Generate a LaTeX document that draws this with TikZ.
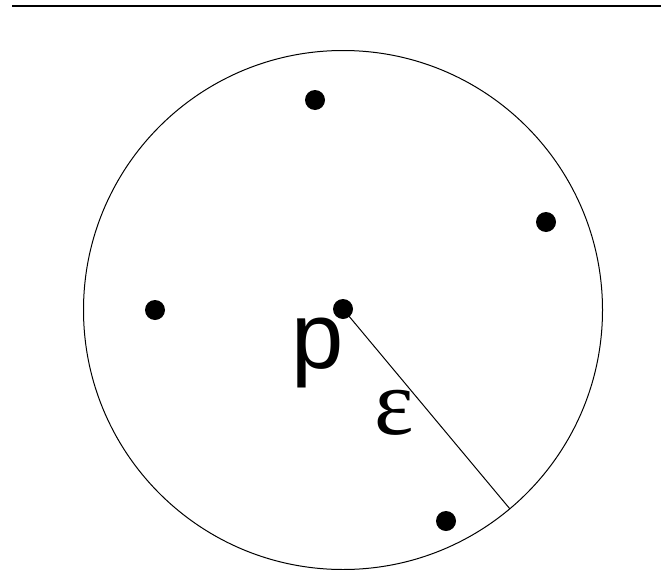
\documentclass[tikz,border=0pt]{standalone}
\usepackage{fontspec}
\setmainfont{Liberation Sans}
\newfontfamily\greekserif{Liberation Serif}
\begin{document}
\begin{tikzpicture}[x=1pt,y=-1pt,
  pt/.style={circle,fill=black,inner sep=0pt,minimum size=20pt},
  lbl/.style={inner sep=0pt,anchor=base}]
\useasboundingbox (0,0) rectangle (661,570);
\coordinate (rl) at (12,6);
\coordinate (rr) at (661,6);
\draw[line width=2.6pt] (rl) -- (rr);
\node[draw,circle,line width=1pt,minimum size=519pt,inner sep=0pt,outer sep=0pt] (ball) at (343,310) {};
\node[pt] (c) at (343,309) {};
\node[pt] (d1) at (315,100) {};
\node[pt] (d2) at (546,222) {};
\node[pt] (d3) at (155,310) {};
\node[pt] (d4) at (446,521) {};
\draw[line width=1pt] (c.center) -- (ball.-50.3);
\node[lbl,font=\fontsize{94}{94}\selectfont] (p) at (318,368) {p};
\node[lbl,font=\greekserif\fontsize{94}{94}\selectfont] (eps) at (394,434) {ε};
\end{tikzpicture}
\end{document}
